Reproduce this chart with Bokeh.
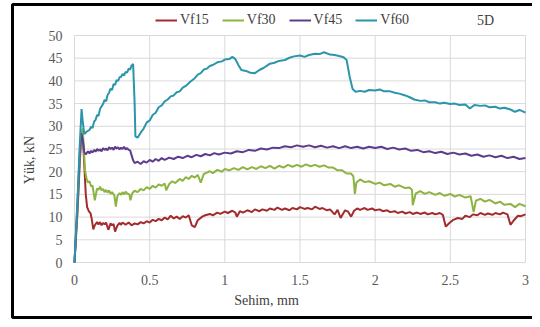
from bokeh.plotting import figure
from bokeh.models import Legend, LegendItem, FixedTicker, LinearAxis, Label, BoxAnnotation
from bokeh.embed import file_html
from bokeh.resources import INLINE

# ---------------- data (deflection mm, load kN) ----------------
vf15_pts = [(0, 0), (0.02, 11), (0.035, 22), (0.045, 27.5), (0.05, 29), (0.058, 26), (0.067, 20.3),
            (0.075, 15), (0.084, 12.2), (0.095, 11.3), (0.107, 10.8), (0.115, 9.5), (0.125, 7.3),
            (0.135, 8.2), (0.15, 8.9), (0.16, 8.4), (0.17, 8.9), (0.18, 8.2), (0.19, 8.7), (0.2, 8.4),
            (0.21, 8.8), (0.225, 7.2), (0.24, 8.6), (0.25, 8.2), (0.26, 8.5), (0.27, 6.8), (0.285, 8.1),
            (0.3, 8.7), (0.31, 8.3), (0.32, 8.8), (0.34, 8.3), (0.36, 8.8), (0.38, 8.2), (0.4, 8.6),
            (0.42, 8.4), (0.44, 8.9), (0.46, 8.6), (0.48, 9.1), (0.5, 8.8), (0.52, 9.4), (0.54, 9.1),
            (0.56, 9.6), (0.58, 9.3), (0.6, 9.9), (0.62, 9.5), (0.64, 10.3), (0.66, 9.7), (0.68, 10.1),
            (0.7, 9.6), (0.72, 10.2), (0.74, 9.9), (0.76, 10.4), (0.78, 8.2), (0.8, 7.8), (0.82, 9.3),
            (0.85, 10.1), (0.87, 10.4), (0.9, 10.7), (0.92, 10.4), (0.95, 11.0), (0.97, 10.7), (1.0, 11.2),
            (1.02, 10.9), (1.05, 11.4), (1.07, 11.0), (1.08, 10.1), (1.1, 11.3), (1.12, 11.0), (1.15, 11.5),
            (1.18, 11.1), (1.2, 11.7), (1.23, 11.3), (1.25, 11.7), (1.28, 11.4), (1.3, 11.9), (1.33, 11.6),
            (1.35, 12.1), (1.38, 11.6), (1.4, 11.9), (1.43, 11.5), (1.45, 12.0), (1.48, 11.7), (1.5, 12.2),
            (1.53, 11.8), (1.55, 12.0), (1.58, 11.7), (1.6, 12.3), (1.63, 11.8), (1.65, 12.0), (1.68, 11.5),
            (1.7, 11.7), (1.73, 10.6), (1.75, 11.6), (1.77, 9.8), (1.8, 11.5), (1.82, 11.2), (1.84, 10.1),
            (1.86, 11.4), (1.88, 11.9), (1.9, 11.6), (1.93, 12.0), (1.95, 11.6), (1.98, 11.9), (2.0, 11.5),
            (2.03, 11.7), (2.05, 11.3), (2.08, 11.5), (2.1, 11.1), (2.13, 11.3), (2.15, 10.9), (2.18, 11.2),
            (2.2, 10.8), (2.23, 11.1), (2.25, 10.7), (2.28, 11.0), (2.3, 10.7), (2.33, 11.0), (2.35, 10.6),
            (2.38, 10.9), (2.4, 10.6), (2.43, 10.9), (2.45, 10.5), (2.47, 7.9), (2.49, 8.6), (2.52, 9.4),
            (2.55, 9.8), (2.58, 9.6), (2.6, 10.3), (2.63, 10.0), (2.65, 10.6), (2.68, 10.4), (2.7, 10.9),
            (2.73, 10.5), (2.75, 10.8), (2.78, 10.5), (2.8, 10.9), (2.83, 10.6), (2.85, 11.0), (2.88, 10.6),
            (2.9, 8.3), (2.92, 9.2), (2.95, 10.3), (2.97, 10.2), (3.0, 10.6)]

vf30_pts = [(0, 0), (0.02, 12), (0.035, 23), (0.045, 28.5), (0.055, 29.5), (0.062, 25), (0.07, 20.3),
            (0.08, 18.5), (0.09, 17.6), (0.1, 17.9), (0.11, 16.8), (0.12, 16.9), (0.13, 14.8), (0.135, 13.7),
            (0.15, 16.3), (0.16, 16.0), (0.17, 16.7), (0.18, 15.9), (0.19, 16.2), (0.2, 15.5), (0.21, 16.0),
            (0.22, 15.4), (0.23, 15.9), (0.24, 15.1), (0.25, 15.5), (0.265, 14.8), (0.275, 12.3),
            (0.285, 14.6), (0.3, 15.3), (0.31, 14.9), (0.32, 15.5), (0.33, 15.0), (0.34, 15.6), (0.35, 15.2),
            (0.365, 15.0), (0.372, 13.7), (0.385, 15.3), (0.4, 15.8), (0.42, 15.5), (0.44, 16.2),
            (0.46, 15.9), (0.48, 16.6), (0.5, 16.2), (0.52, 16.9), (0.54, 16.5), (0.56, 17.2), (0.58, 16.9),
            (0.6, 17.4), (0.61, 15.9), (0.63, 17.3), (0.65, 17.9), (0.67, 17.5), (0.7, 18.4), (0.72, 18.0),
            (0.74, 18.8), (0.76, 18.4), (0.78, 19.1), (0.8, 18.7), (0.82, 19.3), (0.84, 17.6), (0.86, 19.5),
            (0.88, 19.8), (0.9, 20.1), (0.92, 19.7), (0.95, 20.4), (0.98, 20.0), (1.0, 20.6), (1.03, 20.3),
            (1.06, 20.8), (1.09, 20.4), (1.12, 21.0), (1.15, 20.5), (1.18, 21.0), (1.21, 20.6), (1.24, 21.2),
            (1.27, 20.8), (1.3, 21.3), (1.33, 20.7), (1.36, 21.3), (1.39, 20.9), (1.42, 21.5), (1.45, 21.1),
            (1.48, 21.5), (1.51, 21.1), (1.54, 21.6), (1.57, 21.2), (1.6, 21.5), (1.63, 21.1), (1.66, 21.4),
            (1.69, 20.9), (1.72, 20.9), (1.75, 20.3), (1.78, 20.3), (1.81, 19.6), (1.84, 19.6), (1.855, 19.0),
            (1.865, 15.1), (1.875, 17.6), (1.9, 18.3), (1.93, 17.7), (1.96, 17.9), (2.0, 17.3), (2.03, 17.6),
            (2.06, 17.0), (2.1, 17.3), (2.13, 16.7), (2.16, 17.0), (2.2, 16.4), (2.23, 16.5), (2.245, 16.0),
            (2.25, 12.6), (2.27, 15.2), (2.3, 15.7), (2.33, 15.1), (2.36, 15.5), (2.4, 14.9), (2.43, 15.3),
            (2.46, 14.7), (2.5, 15.1), (2.53, 14.5), (2.56, 14.9), (2.6, 14.3), (2.635, 14.6), (2.655, 11.1),
            (2.67, 13.6), (2.7, 14.0), (2.73, 13.4), (2.76, 13.8), (2.8, 13.0), (2.83, 13.4), (2.86, 12.7),
            (2.9, 12.9), (2.93, 12.2), (2.96, 12.9), (3.0, 12.4)]

vf45_pts = [(0, 0), (0.02, 13), (0.035, 24), (0.045, 28.5), (0.055, 27), (0.065, 24.3), (0.075, 23.8),
            (0.09, 24.5), (0.1, 24.0), (0.11, 24.6), (0.12, 24.2), (0.13, 24.8), (0.14, 24.4), (0.15, 25.0),
            (0.16, 24.6), (0.17, 24.9), (0.18, 24.5), (0.19, 25.2), (0.2, 24.8), (0.21, 25.1), (0.22, 24.7),
            (0.23, 25.4), (0.24, 25.0), (0.25, 25.3), (0.26, 24.8), (0.27, 25.5), (0.28, 25.1), (0.29, 25.4),
            (0.3, 24.9), (0.31, 25.3), (0.32, 25.0), (0.33, 25.5), (0.34, 24.9), (0.35, 25.2), (0.36, 24.8),
            (0.37, 24.7), (0.38, 23.6), (0.39, 22.5), (0.4, 21.9), (0.42, 22.2), (0.44, 21.7), (0.46, 22.3),
            (0.48, 22.0), (0.5, 22.6), (0.52, 22.2), (0.54, 22.8), (0.56, 22.4), (0.58, 23.0), (0.6, 22.6),
            (0.63, 23.1), (0.66, 22.8), (0.69, 23.3), (0.72, 23.0), (0.75, 23.5), (0.78, 23.2), (0.81, 23.7),
            (0.84, 23.4), (0.87, 23.9), (0.9, 23.6), (0.93, 24.1), (0.96, 23.8), (1.0, 24.2), (1.04, 24.0),
            (1.08, 24.5), (1.12, 24.3), (1.16, 24.8), (1.2, 24.6), (1.24, 25.1), (1.28, 24.9), (1.32, 25.3),
            (1.36, 25.2), (1.4, 25.6), (1.44, 25.4), (1.48, 25.8), (1.52, 25.5), (1.56, 25.8), (1.6, 25.4),
            (1.64, 25.7), (1.68, 25.3), (1.72, 25.6), (1.76, 25.2), (1.8, 25.6), (1.84, 25.2), (1.88, 25.5),
            (1.92, 25.1), (1.96, 25.5), (2.0, 25.2), (2.04, 25.5), (2.08, 25.0), (2.12, 25.3), (2.16, 24.9),
            (2.2, 25.1), (2.24, 24.6), (2.28, 24.8), (2.32, 24.3), (2.36, 24.5), (2.4, 24.1), (2.44, 24.4),
            (2.48, 23.9), (2.52, 24.2), (2.56, 23.8), (2.6, 24.0), (2.64, 23.5), (2.68, 23.8), (2.72, 23.3),
            (2.76, 23.6), (2.8, 23.2), (2.84, 23.5), (2.88, 23.0), (2.92, 23.3), (2.96, 22.8), (3.0, 23.0)]

vf60_pts = [(0, 0), (0.02, 14), (0.035, 26), (0.047, 33.8), (0.055, 31), (0.065, 28.3), (0.08, 28.8),
            (0.1, 29.2), (0.11, 29.9), (0.12, 29.6), (0.13, 31.0), (0.14, 31.4), (0.15, 32.5), (0.16, 32.3),
            (0.17, 33.8), (0.18, 34.4), (0.19, 34.9), (0.2, 35.8), (0.21, 35.5), (0.22, 36.9), (0.23, 37.4),
            (0.24, 38.3), (0.25, 38.0), (0.26, 39.3), (0.27, 39.1), (0.28, 40.2), (0.29, 40.0), (0.3, 40.8),
            (0.31, 40.9), (0.32, 41.5), (0.33, 41.2), (0.34, 42.0), (0.35, 41.8), (0.36, 42.7), (0.37, 42.5),
            (0.38, 43.4), (0.39, 43.7), (0.4, 35.0), (0.405, 27.8), (0.42, 27.5), (0.44, 28.6), (0.46, 29.5),
            (0.48, 30.8), (0.5, 31.3), (0.52, 32.5), (0.54, 33.0), (0.56, 34.2), (0.58, 34.6), (0.6, 35.5),
            (0.62, 35.9), (0.64, 36.6), (0.66, 36.8), (0.68, 37.5), (0.7, 37.7), (0.72, 38.5), (0.74, 38.9),
            (0.77, 39.8), (0.8, 40.6), (0.82, 41.4), (0.84, 41.7), (0.86, 42.5), (0.88, 42.7), (0.9, 43.3),
            (0.92, 43.5), (0.95, 44.1), (0.98, 44.3), (1.0, 44.7), (1.03, 44.8), (1.05, 45.3), (1.07, 44.8),
            (1.09, 43.5), (1.11, 42.4), (1.14, 42.2), (1.17, 41.8), (1.2, 41.7), (1.23, 42.4), (1.26, 42.9),
            (1.3, 43.8), (1.33, 44.0), (1.36, 44.4), (1.4, 44.6), (1.43, 45.1), (1.46, 45.4), (1.5, 45.6),
            (1.53, 45.3), (1.56, 45.7), (1.6, 46.0), (1.63, 45.9), (1.66, 46.3), (1.7, 45.8), (1.73, 45.7),
            (1.76, 45.5), (1.79, 45.2), (1.81, 44.6), (1.83, 41.0), (1.85, 38.2), (1.87, 37.6), (1.9, 37.8),
            (1.93, 37.6), (1.96, 38.0), (2.0, 37.9), (2.03, 38.1), (2.06, 37.7), (2.1, 37.7), (2.13, 37.4),
            (2.16, 37.2), (2.2, 36.8), (2.23, 36.4), (2.26, 35.9), (2.3, 35.6), (2.33, 35.7), (2.36, 35.3),
            (2.4, 35.3), (2.43, 35.0), (2.46, 35.2), (2.5, 34.9), (2.53, 35.0), (2.56, 34.7), (2.6, 34.8),
            (2.63, 33.9), (2.66, 34.7), (2.7, 34.5), (2.73, 34.6), (2.76, 34.2), (2.8, 34.3), (2.83, 33.9),
            (2.86, 34.1), (2.9, 33.7), (2.93, 33.2), (2.96, 33.6), (3.0, 33.0)]

series_names = ["Vf15", "Vf30", "Vf45", "Vf60"]
x_ticks = [0, 0.5, 1, 1.5, 2, 2.5, 3]
x_tick_labels = ["0", "0.5", "1", "1.5", "2", "2.5", "3"]
y_ticks = [0, 5, 10, 15, 20, 25, 30, 35, 40, 45, 50]
panel_label = "5D"

# ---------------- layout (pixels) ----------------
W, H = 532, 319
PL, PR, PT, PB = 74, 525, 35, 262          # plot area edges in canvas pixels
X0, X1, Y0, Y1 = 0, 3, 0, 50
sx = (PR - PL) / (X1 - X0)
sy = (PB - PT) / (Y1 - Y0)
def dx(px): return X0 + (px - PL) / sx
def dy(py): return Y0 + (PB - py) / sy

FONT = "Liberation Serif"
colors = ["#A32B2E", "#8DB443", "#5E3C8C", "#2A95AB"]
GRID = "#d9d9d9"

p = figure(width=W, height=H, output_backend="svg", toolbar_location=None,
           x_range=(dx(0), dx(W)), y_range=(dy(H), dy(0)),
           x_axis_location=None, y_axis_location=None,
           min_border=0, min_border_left=0, min_border_right=0, min_border_top=0, min_border_bottom=0)
p.background_fill_color = "white"
p.border_fill_color = "white"
p.outline_line_color = None
p.xgrid.visible = False
p.ygrid.visible = False

# grid lines of the plot area
p.segment(x0=x_ticks, y0=[Y0] * len(x_ticks), x1=x_ticks, y1=[Y1] * len(x_ticks),
          line_color=GRID, line_width=1)
p.segment(x0=[X0] * len(y_ticks), y0=y_ticks, x1=[X1] * len(y_ticks), y1=y_ticks,
          line_color=GRID, line_width=1)

xaxis = LinearAxis(fixed_location=Y0, ticker=FixedTicker(ticks=x_ticks), axis_label="Sehim, mm",
                   major_label_overrides={t: l for t, l in zip(x_ticks, x_tick_labels)})
yaxis = LinearAxis(fixed_location=X0, ticker=FixedTicker(ticks=y_ticks), axis_label="Yük, kN")
for ax in (xaxis, yaxis):
    ax.axis_line_color = None
    ax.major_tick_line_color = None
    ax.minor_tick_line_color = None
    ax.major_label_text_font = FONT
    ax.major_label_text_font_size = "14px"
    ax.major_label_text_color = "#595959"
    ax.axis_label_text_font = FONT
    ax.axis_label_text_font_size = "14px"
    ax.axis_label_text_font_style = "normal"
    ax.axis_label_text_color = "#404040"
    ax.major_label_standoff = 6
xaxis.axis_label_standoff = 5
yaxis.axis_label_standoff = 9
p.add_layout(xaxis, "below")
p.add_layout(yaxis, "left")

all_pts = [vf15_pts, vf30_pts, vf45_pts, vf60_pts]
renderers = []
for pts, c in zip(all_pts, colors):
    xs = [pt[0] for pt in pts]
    ys = [pt[1] for pt in pts]
    renderers.append(p.line(xs, ys, line_color=c, line_width=2))

legend = Legend(items=[LegendItem(label=n, renderers=[r]) for n, r in zip(series_names, renderers)],
                orientation="horizontal", location=(155, H - 30),
                border_line_color=None, background_fill_alpha=0,
                padding=0, margin=0, spacing=13, glyph_width=22, label_standoff=3,
                label_text_font=FONT, label_text_font_size="14px", label_text_color="#404040")
p.add_layout(legend, "center")

p.add_layout(Label(x=dx(485), y=dy(20), text=panel_label, text_font=FONT, text_font_size="14px",
                   text_color="#404040", text_align="center", text_baseline="middle"))

# outer black frame of the picture (left, top, bottom edges)
p.add_layout(BoxAnnotation(left=dx(12), right=dx(W + 20), top=dy(4), bottom=dy(317),
                           fill_alpha=0, line_color="black", line_width=3, line_alpha=1))

open("out.html", "w").write(file_html(p, INLINE))
